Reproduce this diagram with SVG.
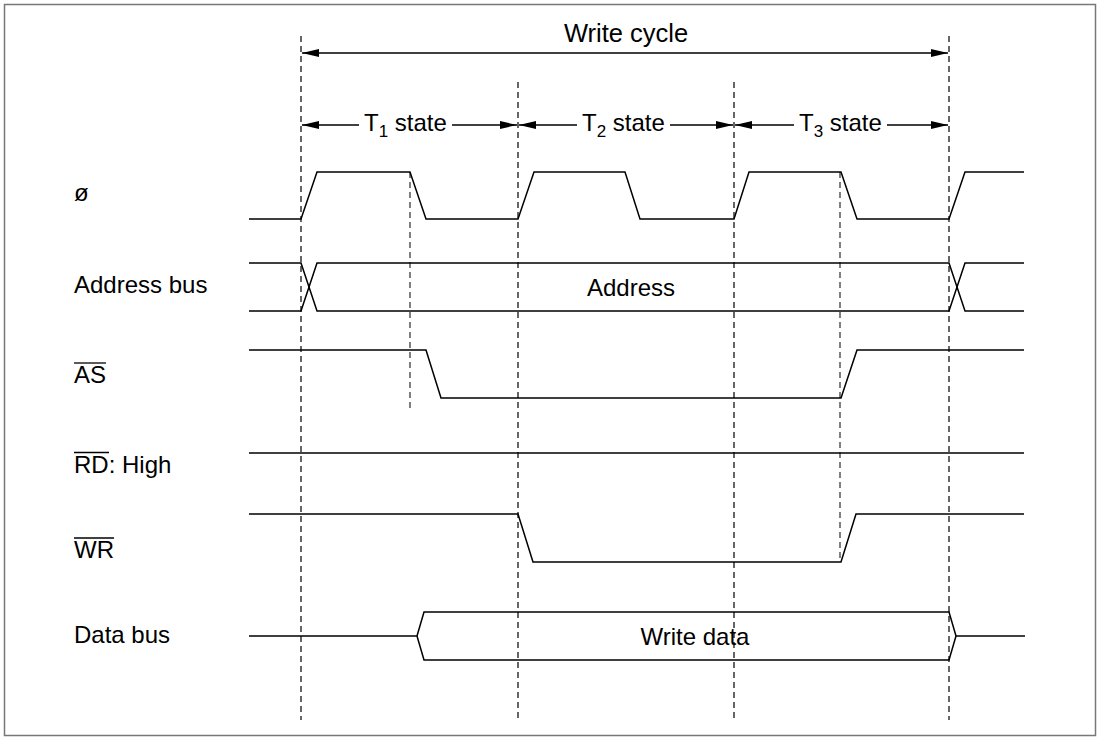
<svg xmlns="http://www.w3.org/2000/svg" width="1100" height="738" viewBox="0 0 1100 738">
<style>
text{font-family:"Liberation Sans",Arial,sans-serif;font-size:24px;fill:#000}
.big{font-size:25.5px}
.sig{fill:none;stroke:#000;stroke-width:1.5;stroke-linejoin:miter}
.dash{fill:none;stroke:#000;stroke-width:1.2;stroke-dasharray:6 4}
.dash2{fill:none;stroke:#555;stroke-width:1.5;stroke-dasharray:6 4}
.arr{fill:none;stroke:#000;stroke-width:1.5}
.ol{stroke:#000;stroke-width:1.3}
.sub{font-size:17px}
</style>
<defs>
<marker id="ah" markerWidth="17" markerHeight="8" refX="17" refY="4" orient="auto-start-reverse" markerUnits="userSpaceOnUse">
<path d="M0,0 L17,4 L0,8 Z" fill="#000"/>
</marker>
</defs>
<rect x="4.5" y="4.5" width="1091" height="731" fill="#fff" stroke="#777" stroke-width="1.5"/>

<g id="guides">
<line class="dash" x1="301" y1="36" x2="301" y2="720"/>
<line class="dash" x1="518" y1="82" x2="518" y2="720"/>
<line class="dash" x1="734" y1="82" x2="734" y2="720"/>
<line class="dash" x1="949" y1="36" x2="949" y2="720"/>
<line class="dash2" x1="410" y1="172" x2="410" y2="409"/>
<line class="dash2" x1="840" y1="172" x2="840" y2="562"/>
</g>

<g id="connectors">
<line class="arr" x1="302" y1="53" x2="948" y2="53" marker-start="url(#ah)" marker-end="url(#ah)"/>
<line class="arr" x1="302" y1="125" x2="359" y2="125" marker-start="url(#ah)"/>
<line class="arr" x1="452" y1="125" x2="517" y2="125" marker-end="url(#ah)"/>
<line class="arr" x1="519" y1="125" x2="577" y2="125" marker-start="url(#ah)"/>
<line class="arr" x1="670" y1="125" x2="733" y2="125" marker-end="url(#ah)"/>
<line class="arr" x1="735" y1="125" x2="794" y2="125" marker-start="url(#ah)"/>
<line class="arr" x1="887" y1="125" x2="948" y2="125" marker-end="url(#ah)"/>
</g>

<g id="timing-labels">
<text class="big" x="626" y="42" text-anchor="middle">Write cycle</text>
<text x="364" y="131">T<tspan class="sub" dy="6">1</tspan><tspan dy="-6"> state</tspan></text>
<text x="582" y="131">T<tspan class="sub" dy="6">2</tspan><tspan dy="-6"> state</tspan></text>
<text x="799" y="131">T<tspan class="sub" dy="6">3</tspan><tspan dy="-6"> state</tspan></text>
</g>

<g id="phi">
<text x="74" y="201">ø</text>
<polyline class="sig" points="249,219 301,219 317,172 410,172 426,219 518,219 534,172 625,172 640,219 734,219 749,172 841,172 857,219 949,219 965,172 1024,172"/>
</g>

<g id="address-bus">
<text x="74" y="293">Address bus</text>
<polyline class="sig" points="249,263 301,263 317,311 949,311 965,263 1024,263"/>
<polyline class="sig" points="249,311 301,311 317,263 949,263 965,311 1024,311"/>
<text x="631" y="296" text-anchor="middle">Address</text>
</g>

<g id="as">
<text x="74" y="383">AS</text>
<line class="ol" x1="74" y1="363" x2="106" y2="363"/>
<polyline class="sig" points="249,350 426,350 441,398 841,398 857,350 1024,350"/>
</g>

<g id="rd">
<text x="74" y="473">RD: High</text>
<line class="ol" x1="74" y1="452.5" x2="109" y2="452.5"/>
<line class="sig" x1="249" y1="453" x2="1024" y2="453"/>
</g>

<g id="wr">
<text x="74" y="558">WR</text>
<line class="ol" x1="74" y1="538" x2="114" y2="538"/>
<polyline class="sig" points="249,514 518,514 533,562 841,562 856,514 1024,514"/>
</g>

<g id="data-bus">
<text x="74" y="643">Data bus</text>
<polyline class="sig" points="249,636 417,636 424,612 949,612 956,636 949,660 424,660 417,636"/>
<line class="sig" x1="956" y1="636" x2="1025" y2="636"/>
<text x="695" y="645" text-anchor="middle">Write data</text>
</g>
</svg>
